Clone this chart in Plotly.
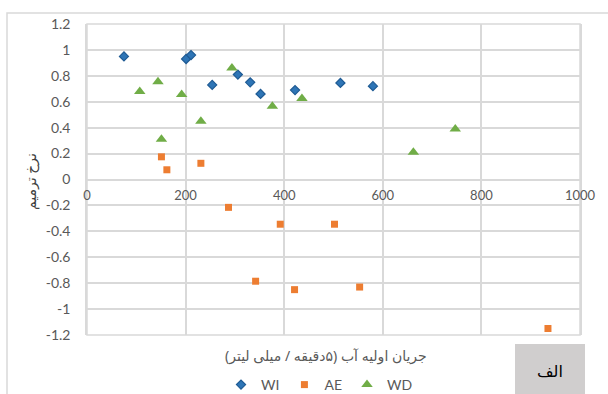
import plotly.graph_objects as go

# Data
wi_x = [75, 201, 211, 254, 306, 331, 352, 422, 514, 580]
wi_y = [0.95, 0.93, 0.96, 0.73, 0.81, 0.75, 0.66, 0.69, 0.745, 0.72]

ae_x = [151, 162, 231, 287, 392, 342, 421, 502, 553, 935]
ae_y = [0.175, 0.075, 0.125, -0.215, -0.345, -0.785, -0.85, -0.345, -0.83, -1.15]

wd_x = [107, 144, 151, 192, 231, 294, 376, 436, 662, 747]
wd_y = [0.68, 0.755, 0.31, 0.655, 0.45, 0.86, 0.565, 0.625, 0.21, 0.39]

x_ticks = [0, 200, 400, 600, 800, 1000]
y_ticks = [1.2, 1, 0.8, 0.6, 0.4, 0.2, 0, -0.2, -0.4, -0.6, -0.8, -1, -1.2]
y_tick_text = ["1.2", "1", "0.8", "0.6", "0.4", "0.2", "0", "-0.2", "-0.4", "-0.6", "-0.8", "-1", "-1.2"]

x_title = "جریان اولیه آب (۵دقیقه / میلی لیتر)"
y_title = "نرخ ترمیم"
panel_label = "الف"

GRID = "#d9d9d9"
TXT = "#595959"
FONT = "Lato, 'Open Sans', sans-serif"
AR_FONT = "'Noto Sans', 'DejaVu Sans', sans-serif"

fig = go.Figure()
fig.add_trace(go.Scatter(
    x=wi_x, y=wi_y, mode="markers", name="WI",
    marker=dict(symbol="diamond", size=7, color="#2e75b6",
                line=dict(color="#1f5b94", width=1.2))))
fig.add_trace(go.Scatter(
    x=ae_x, y=ae_y, mode="markers", name="AE",
    marker=dict(symbol="square", size=7, color="#ed7d31",
                line=dict(color="#ed7d31", width=0))))
fig.add_trace(go.Scatter(
    x=wd_x, y=wd_y, mode="markers", name="WD",
    marker=dict(symbol="triangle-up", size=10, color="#70ad47",
                line=dict(color="#70ad47", width=0))))

fig.update_layout(
    width=608, height=394,
    margin=dict(l=87, r=28, t=24, b=59, autoexpand=False),
    paper_bgcolor="white", plot_bgcolor="white",
    font=dict(family=FONT, size=13, color=TXT),
    showlegend=True,
    legend=dict(orientation="h", x=(221 - 87) / 493, xanchor="left",
                y=(335 - 369) / 311, yanchor="top",
                font=dict(size=14, color=TXT),
                tracegroupgap=0, itemwidth=30),
    xaxis=dict(range=[0, 1000], tickvals=x_ticks, showgrid=True,
               gridcolor=GRID, gridwidth=1.5, zeroline=False,
               showline=True, linecolor=GRID, linewidth=1.5,
               anchor="free", position=0.5, ticks="",
               ticklabelstandoff=4, tickfont=dict(size=13, color=TXT)),
    yaxis=dict(range=[-1.2, 1.2], tickvals=y_ticks, ticktext=y_tick_text,
               showgrid=True, gridcolor=GRID, gridwidth=1.5,
               zeroline=False, showline=True, linecolor=GRID, linewidth=1.5,
               mirror=True, ticks="", ticklabelstandoff=12,
               tickfont=dict(size=14, color=TXT)),
)

# plot-area border
fig.add_shape(type="rect", xref="paper", yref="paper", x0=0, x1=1, y0=0, y1=1,
              line=dict(color=GRID, width=1.5), layer="below")

# outer chart frame (extends past the window)
fig.add_shape(type="rect", xref="paper", yref="paper",
              x0=(7 - 87) / 493, x1=1.2, y0=-0.5, y1=(335 - 13) / 311,
              line=dict(color=GRID, width=1.5), layer="below")

# axis titles
fig.add_annotation(text=x_title, xref="paper", yref="paper",
                   x=(326 - 87) / 493, y=(335 - 355) / 311,
                   xanchor="center", yanchor="middle",
                   showarrow=False, font=dict(size=14, color=TXT, family=AR_FONT))
fig.add_annotation(text=y_title, xref="paper", yref="paper",
                   x=(30 - 87) / 493, y=(335 - 182) / 311, textangle=-90,
                   xanchor="center", yanchor="middle",
                   showarrow=False, font=dict(size=14, color="#404040", family=AR_FONT))

# panel label box
fig.add_shape(type="rect", xref="paper", yref="paper",
              x0=(515 - 87) / 493, x1=(585 - 87) / 493,
              y0=(335 - 400) / 311, y1=(335 - 344) / 311,
              fillcolor="#d0cece", line=dict(color="#d0cece", width=0))
fig.add_annotation(text=panel_label, xref="paper", yref="paper",
                   x=(550 - 87) / 493, y=(335 - 371) / 311,
                   xanchor="center", yanchor="middle",
                   showarrow=False, font=dict(size=16, color="black", family=AR_FONT))

fig.write_html("out.html")
